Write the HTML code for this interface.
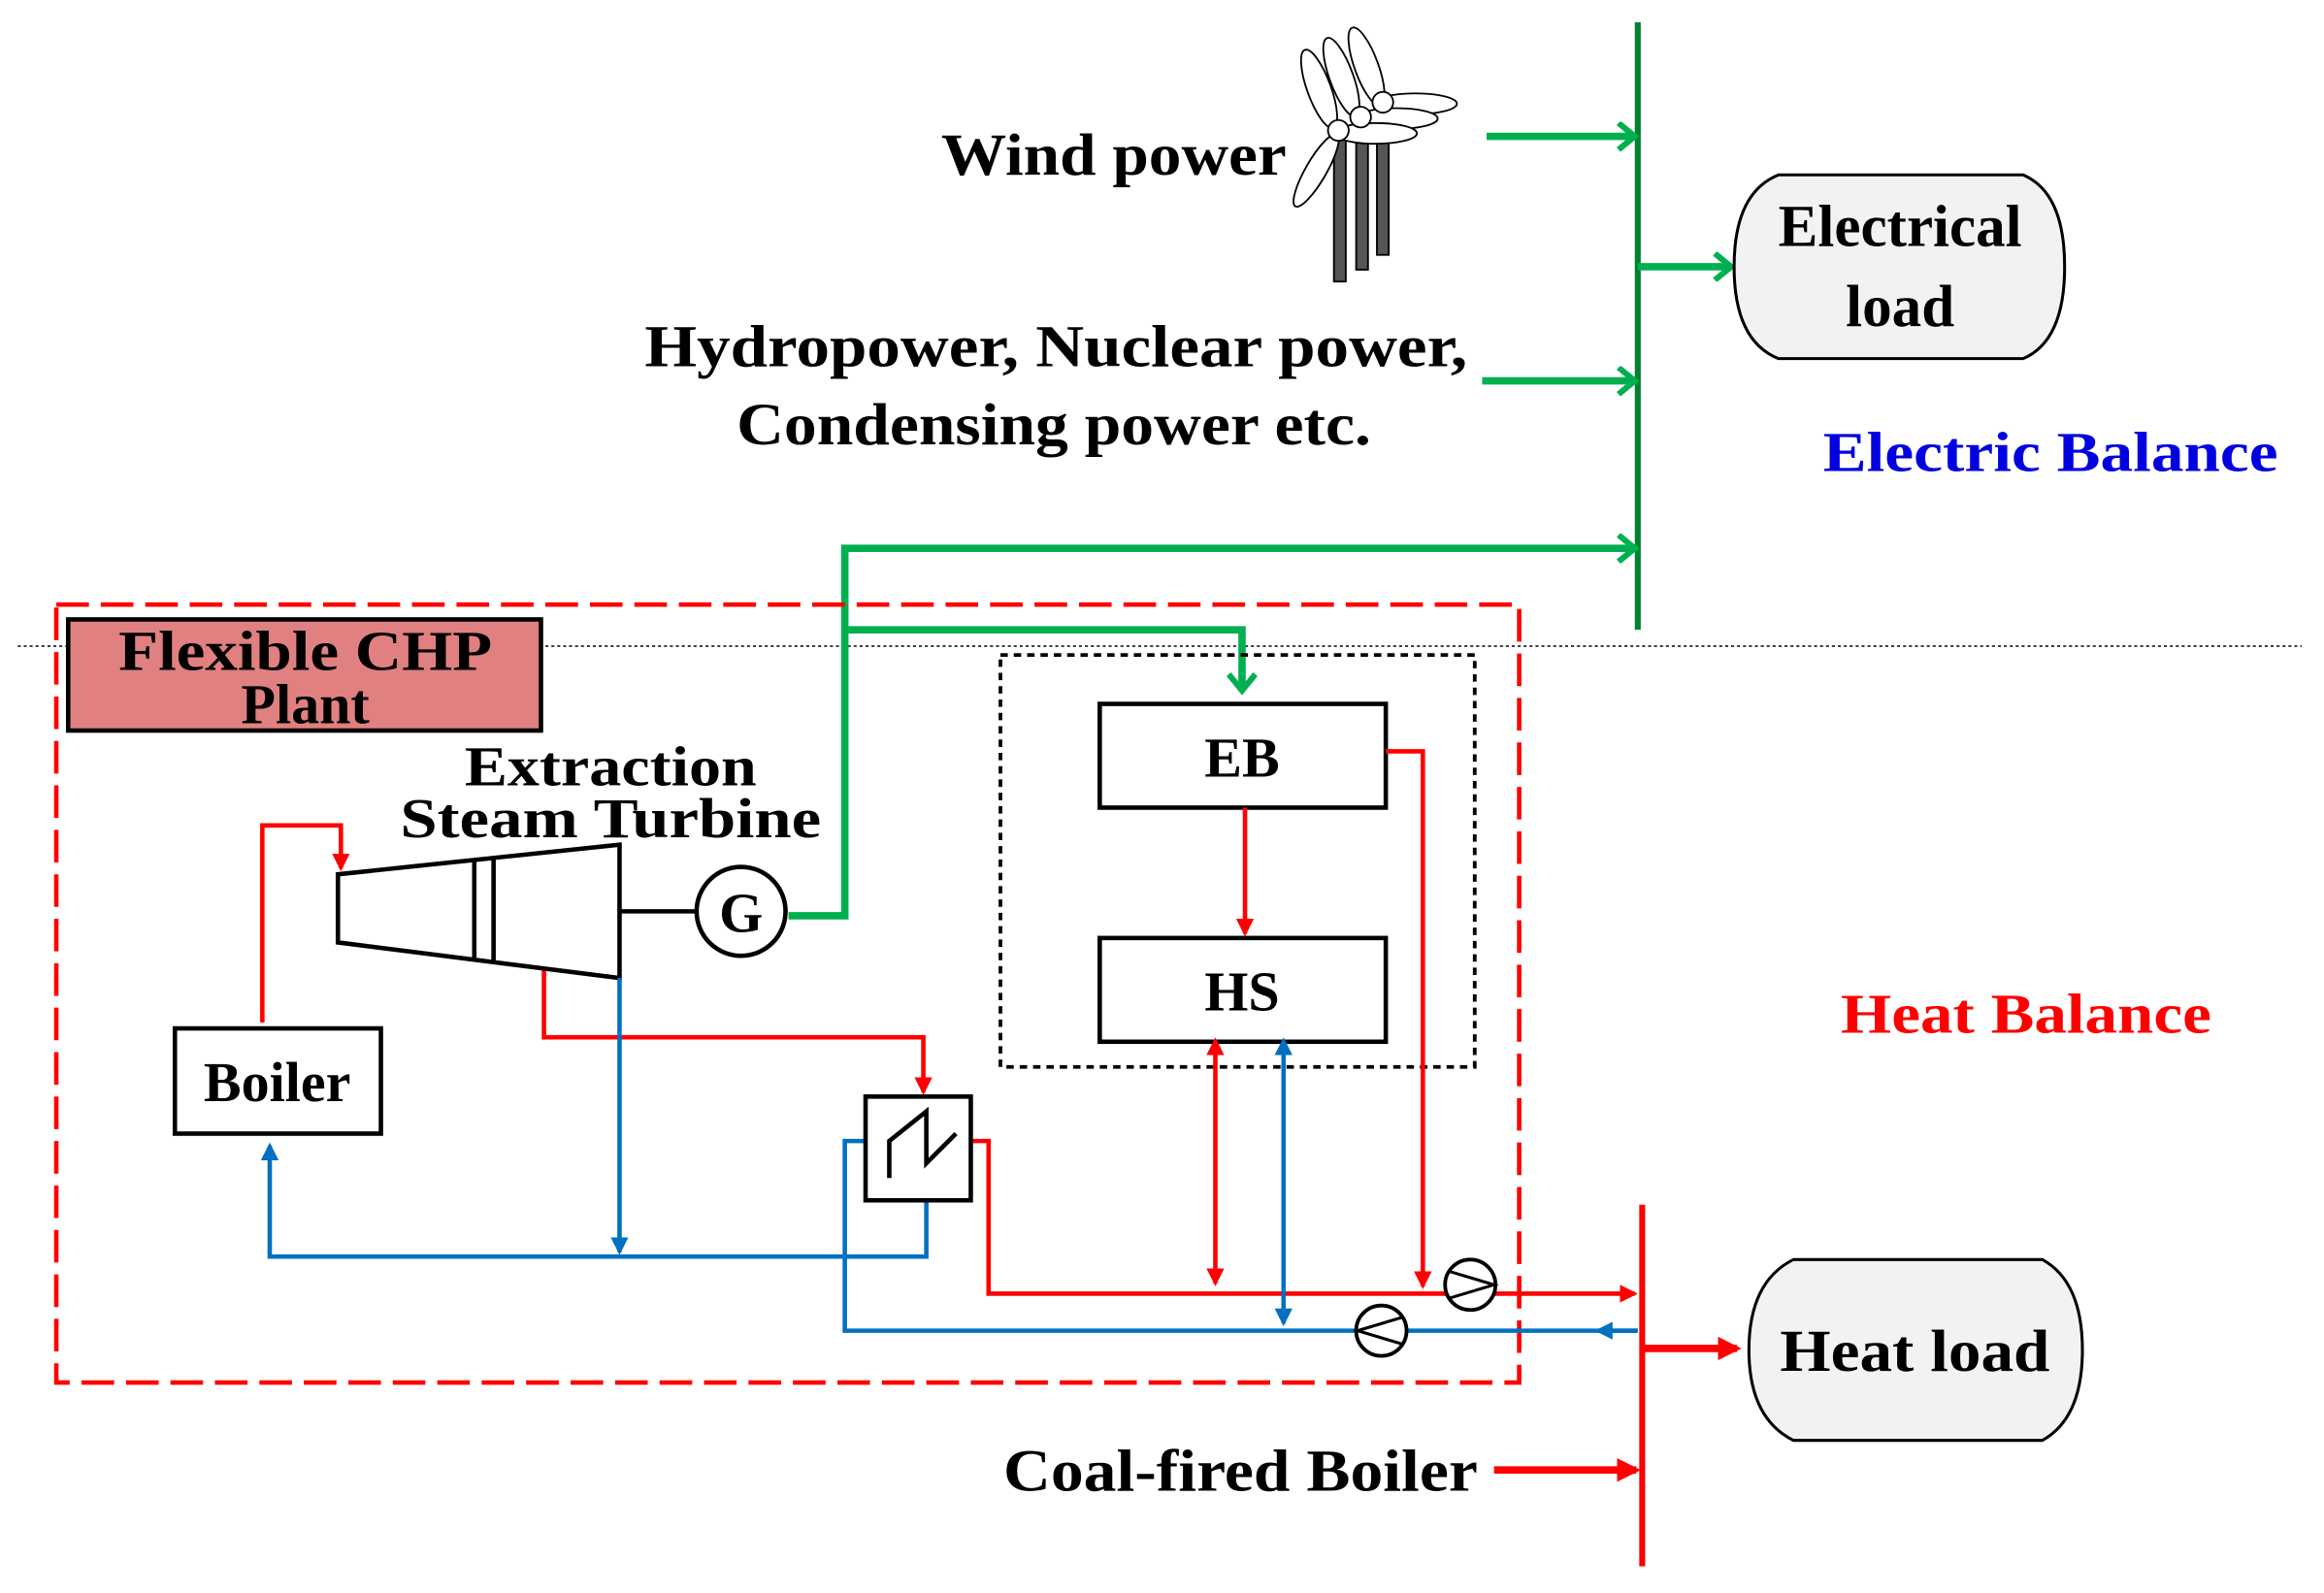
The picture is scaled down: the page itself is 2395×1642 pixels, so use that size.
<!DOCTYPE html>
<html><head><meta charset="utf-8"><style>html,body{margin:0;padding:0;background:#fff}svg{display:block}text{font-family:"Liberation Serif",serif;font-weight:bold}</style></head>
<body>
<svg width="2395" height="1642" viewBox="0 0 1568 1075" xmlns="http://www.w3.org/2000/svg">
<defs>
<marker id="ag" markerWidth="16" markerHeight="20" refX="13" refY="10" orient="auto" markerUnits="userSpaceOnUse"><path d="M2,1 L13,10 L2,19" fill="none" stroke="#00b050" stroke-width="4"/></marker>
<marker id="ar" markerWidth="12" markerHeight="12" refX="10" refY="6" orient="auto" markerUnits="userSpaceOnUse"><path d="M0,0 L12,6 L0,12 z" fill="#ff0000"/></marker>
<marker id="arL" markerWidth="16" markerHeight="16" refX="13" refY="8" orient="auto" markerUnits="userSpaceOnUse"><path d="M0,0 L16,8 L0,16 z" fill="#ff0000"/></marker>
<marker id="ars" markerWidth="12" markerHeight="12" refX="2" refY="6" orient="auto-start-reverse" markerUnits="userSpaceOnUse"><path d="M0,0 L12,6 L0,12 z" fill="#ff0000"/></marker>
<marker id="ab" markerWidth="12" markerHeight="12" refX="10" refY="6" orient="auto" markerUnits="userSpaceOnUse"><path d="M0,0 L12,6 L0,12 z" fill="#0070c0"/></marker>
<marker id="abs" markerWidth="12" markerHeight="12" refX="2" refY="6" orient="auto-start-reverse" markerUnits="userSpaceOnUse"><path d="M0,0 L12,6 L0,12 z" fill="#0070c0"/></marker>
</defs>
<line x1="12" y1="436" x2="1553" y2="436" stroke="#000" stroke-width="1" stroke-dasharray="2,2"/>
<line x1="1105" y1="15" x2="1105" y2="425" stroke="#008030" stroke-width="4"/>
<g stroke="#00b050" stroke-width="5" fill="none">
<line x1="1003" y1="92" x2="1103" y2="92" marker-end="url(#ag)"/>
<line x1="1000" y1="257" x2="1103" y2="257" marker-end="url(#ag)"/>
<line x1="1105" y1="180" x2="1168" y2="180" marker-end="url(#ag)"/>
<polyline points="532,618 570,618 570,370 1103,370" marker-end="url(#ag)"/>
<polyline points="570,425 838,425 838,466" marker-end="url(#ag)"/>
</g>
<path d="M1200,118 L1365,118 Q1393,130 1393,180 Q1393,230 1365,242 L1200,242 Q1170,230 1170,180 Q1170,130 1200,118 Z" fill="#f2f2f2" stroke="#000" stroke-width="2"/>
<text x="1282" y="166" font-size="40" text-anchor="middle">Electrical</text>
<text x="1282" y="220" font-size="40" text-anchor="middle">load</text>
<text x="1230" y="318" font-size="38" fill="#0000e0" textLength="307" lengthAdjust="spacingAndGlyphs">Electric Balance</text>
<text x="1242" y="697" font-size="38" fill="#ff0000" textLength="250" lengthAdjust="spacingAndGlyphs">Heat Balance</text>
<text x="635" y="118" font-size="40" textLength="233" lengthAdjust="spacingAndGlyphs">Wind power</text>
<text x="435" y="247" font-size="40" textLength="555" lengthAdjust="spacingAndGlyphs">Hydropower, Nuclear power,</text>
<text x="497" y="300" font-size="40" textLength="428" lengthAdjust="spacingAndGlyphs">Condensing power etc.</text>
<g stroke="#000" stroke-width="1.2" fill="#fff">
<rect x="929" y="72" width="8" height="100" fill="#555"/>
<rect x="915" y="82" width="8" height="100" fill="#555"/>
<rect x="900" y="90" width="8" height="100" fill="#555"/>
<ellipse cx="922" cy="45" rx="8" ry="28" transform="rotate(-20 922 45)"/>
<ellipse cx="955" cy="70" rx="28" ry="7"/>
<ellipse cx="905" cy="52" rx="8" ry="28" transform="rotate(-20 905 52)"/>
<ellipse cx="942" cy="80" rx="28" ry="7"/>
<ellipse cx="890" cy="60" rx="8" ry="28" transform="rotate(-20 890 60)"/>
<ellipse cx="928" cy="90" rx="28" ry="7"/>
<ellipse cx="888" cy="115" rx="7" ry="28" transform="rotate(30 888 115)"/>
<circle cx="933" cy="69" r="7"/><circle cx="918" cy="79" r="7"/><circle cx="903" cy="88" r="7"/>
</g>
<rect x="38" y="408" width="987" height="525" fill="none" stroke="#ff0000" stroke-width="3" stroke-dasharray="22,8"/>
<rect x="46" y="418" width="319" height="75" fill="#e08080" stroke="#000" stroke-width="3"/>
<text x="206" y="452" font-size="38" text-anchor="middle" textLength="252" lengthAdjust="spacingAndGlyphs">Flexible CHP</text>
<text x="206" y="488" font-size="38" text-anchor="middle">Plant</text>
<text x="412" y="530" font-size="38" text-anchor="middle" textLength="197" lengthAdjust="spacingAndGlyphs">Extraction</text>
<text x="412" y="565" font-size="38" text-anchor="middle" textLength="284" lengthAdjust="spacingAndGlyphs">Steam Turbine</text>
<rect x="675" y="442" width="320" height="278" fill="none" stroke="#000" stroke-width="2.5" stroke-dasharray="5,4"/>
<rect x="742" y="475" width="193" height="70" fill="#fff" stroke="#000" stroke-width="3"/>
<text x="838" y="524" font-size="38" text-anchor="middle">EB</text>
<rect x="742" y="633" width="193" height="70" fill="#fff" stroke="#000" stroke-width="3"/>
<text x="838" y="682" font-size="38" text-anchor="middle">HS</text>
<polygon points="228,590 418,570 418,660 228,636" fill="#fff" stroke="#000" stroke-width="3"/>
<line x1="320" y1="580" x2="320" y2="648" stroke="#000" stroke-width="3"/>
<line x1="333" y1="578" x2="333" y2="650" stroke="#000" stroke-width="3"/>
<line x1="418" y1="615" x2="470" y2="615" stroke="#000" stroke-width="3"/>
<circle cx="500" cy="615" r="30" fill="#fff" stroke="#000" stroke-width="3"/>
<text x="500" y="629" font-size="38" text-anchor="middle">G</text>
<rect x="118" y="694" width="139" height="71" fill="#fff" stroke="#000" stroke-width="3"/>
<text x="187" y="743" font-size="38" text-anchor="middle">Boiler</text>
<g stroke="#ff0000" stroke-width="3" fill="none">
<polyline points="177,690 177,557 230,557 230,586" marker-end="url(#ar)"/>
<polyline points="367,655 367,700 623,700 623,737" marker-end="url(#ar)"/>
<line x1="840" y1="545" x2="840" y2="630" marker-end="url(#ar)"/>
<polyline points="935,507 960,507 960,868" marker-end="url(#ar)"/>
<polyline points="655,770 667,770 667,873 1103,873" marker-end="url(#ar)"/>
<line x1="820" y1="710" x2="820" y2="866" marker-start="url(#ars)" marker-end="url(#ar)"/>
</g>
<g stroke="#0070c0" stroke-width="3" fill="none">
<line x1="418" y1="660" x2="418" y2="845" marker-end="url(#ab)"/>
<polyline points="625,810 625,848 182,848 182,773" marker-end="url(#ab)"/>
<polyline points="1105,898 570,898 570,770 584,770"/>
<line x1="866" y1="710" x2="866" y2="893" marker-start="url(#abs)" marker-end="url(#ab)"/>
<line x1="1105" y1="898" x2="1078" y2="898" marker-end="url(#ab)"/>
</g>
<rect x="584" y="740" width="71" height="70" fill="#fff" stroke="#000" stroke-width="3"/>
<polyline points="600,795 600,770 625,750 625,785 645,765" fill="none" stroke="#000" stroke-width="3"/>
<circle cx="992" cy="867" r="17" fill="#fff" stroke="#000" stroke-width="2.5"/>
<polyline points="978,858 1008,867 978,876" fill="none" stroke="#000" stroke-width="2"/>
<circle cx="932" cy="898" r="17" fill="#fff" stroke="#000" stroke-width="2.5"/>
<polyline points="946,889 916,898 946,907" fill="none" stroke="#000" stroke-width="2"/>
<line x1="1108" y1="813" x2="1108" y2="1057" stroke="#ff0000" stroke-width="4"/>
<g stroke="#ff0000" stroke-width="5" fill="none">
<line x1="1108" y1="910" x2="1172" y2="910" marker-end="url(#arL)"/>
<line x1="1008" y1="992" x2="1104" y2="992" marker-end="url(#arL)"/>
</g>
<path d="M1210,850 L1378,850 Q1405,865 1405,911 Q1405,957 1378,972 L1210,972 Q1180,957 1180,911 Q1180,865 1210,850 Z" fill="#f2f2f2" stroke="#000" stroke-width="2"/>
<text x="1292" y="925" font-size="40" text-anchor="middle" textLength="182" lengthAdjust="spacingAndGlyphs">Heat load</text>
<text x="997" y="1006" font-size="40" text-anchor="end" textLength="320" lengthAdjust="spacingAndGlyphs">Coal-fired Boiler</text>
</svg>
</body></html>
